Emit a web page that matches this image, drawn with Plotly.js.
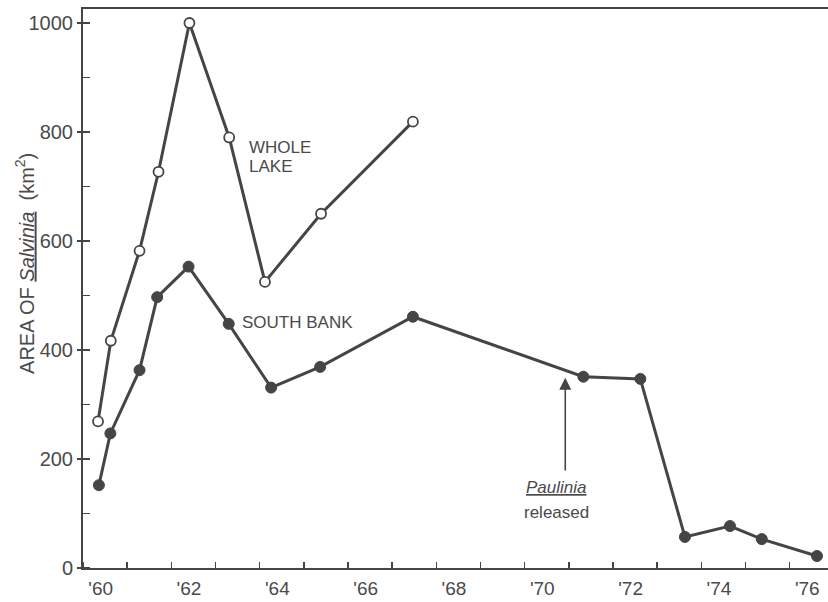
<!DOCTYPE html>
<html>
<head>
<meta charset="utf-8">
<script src="https://cdn.plot.ly/plotly-3.0.1.min.js"></script>
<style>
  html, body { margin: 0; padding: 0; background: #fff; overflow: hidden; }
  #chart { width: 836px; height: 602px; }
</style>
</head>
<body>
<div id="chart"></div>
<script>
// Area of Salvinia on the lake, by survey date (year, km²)
const wholeLakeYears = [1960.34, 1960.63, 1961.28, 1961.71, 1962.41, 1963.31, 1964.12, 1965.39, 1967.47];
const wholeLakeArea  = [269, 417, 582, 727, 1000, 790, 525, 650, 819];

const southBankYears = [1960.36, 1960.62, 1961.28, 1961.68, 1962.39, 1963.30, 1964.26, 1965.37, 1967.47,
                        1971.33, 1972.62, 1973.63, 1974.65, 1975.37, 1976.62];
const southBankArea  = [152, 247, 363, 497, 553, 448, 331, 369, 461,
                        351, 347, 57, 77, 53, 22];

// Year labels sit between the yearly tick marks
const tickYears  = [1960, 1962, 1964, 1966, 1968, 1970, 1972, 1974, 1976];
const tickLabels = ["'60", "'62", "'64", "'66", "'68", "'70", "'72", "'74", "'76"];

// Paulinia release: arrow from this level up to the South Bank line
const releaseYear = 1970.92;
const releaseArrowFrom = 176;
const releaseArrowTo = 349;

const ink = '#454545';
const textInk = '#4a4a4a';
const fontFamily = 'Liberation Sans, Arial, sans-serif';

const traces = [
  {
    x: southBankYears, y: southBankArea, type: 'scatter', mode: 'lines+markers',
    name: 'South Bank',
    line: { color: ink, width: 3 },
    marker: { symbol: 'circle', size: 11, color: ink, line: { color: ink, width: 1 } },
    cliponaxis: false, hoverinfo: 'x+y'
  },
  {
    x: wholeLakeYears, y: wholeLakeArea, type: 'scatter', mode: 'lines+markers',
    name: 'Whole Lake',
    line: { color: ink, width: 3 },
    marker: { symbol: 'circle', size: 10, color: '#ffffff', line: { color: ink, width: 1.8 } },
    cliponaxis: false, hoverinfo: 'x+y'
  }
];

const labelFont = { family: fontFamily, size: 17, color: textInk };

const layout = {
  width: 836, height: 602,
  margin: { l: 83, r: 4, t: 9, b: 34 },
  paper_bgcolor: '#ffffff', plot_bgcolor: '#ffffff',
  showlegend: false,
  font: { family: fontFamily, color: textInk },
  xaxis: {
    range: [1960, 1976.96],
    showgrid: false, zeroline: false,
    showline: true, linecolor: ink, linewidth: 2, mirror: true,
    tickmode: 'array',
    tickvals: tickYears.map(v => v + 0.4),
    ticktext: tickLabels,
    ticks: '', ticklabelstandoff: 2,
    tickfont: { family: fontFamily, size: 19, color: textInk },
    minor: { tickmode: 'linear', tick0: 1960, dtick: 1, ticks: 'inside', ticklen: 6, tickwidth: 1.5, tickcolor: ink, showgrid: false }
  },
  yaxis: {
    range: [0, 1025.7],
    showgrid: false, zeroline: false,
    showline: true, linecolor: ink, linewidth: 2, mirror: false,
    tickmode: 'linear', tick0: 0, dtick: 200,
    ticks: 'outside', ticklen: 4, tickwidth: 1.5, tickcolor: ink,
    ticklabelstandoff: 0,
    tickfont: { family: fontFamily, size: 20, color: textInk },
    minor: { tickmode: 'linear', tick0: 0, dtick: 100, ticks: 'inside', ticklen: 7, tickwidth: 1.5, tickcolor: ink, showgrid: false }
  },
  annotations: [
    {
      text: 'AREA OF <i><span style="text-decoration:underline">Salvinia</span></i>  (km<sup>2</sup>)',
      xref: 'paper', yref: 'paper', x: -0.078, y: 0.545,
      xanchor: 'center', yanchor: 'middle', textangle: -90, showarrow: false,
      font: { family: fontFamily, size: 20, color: textInk }
    },
    { text: 'WHOLE', x: 1963.71, y: 771, xanchor: 'left', yanchor: 'middle', showarrow: false, font: labelFont },
    { text: 'LAKE',  x: 1963.71, y: 736, xanchor: 'left', yanchor: 'middle', showarrow: false, font: labelFont },
    { text: 'SOUTH BANK', x: 1963.56, y: 450, xanchor: 'left', yanchor: 'middle', showarrow: false, font: labelFont },
    {
      text: 'Paulinia', x: 1970.72, y: 147, xanchor: 'center', yanchor: 'middle', showarrow: false,
      font: { family: fontFamily, size: 17, color: textInk, style: 'italic', lineposition: 'under' }
    },
    { text: 'released', x: 1970.72, y: 101, xanchor: 'center', yanchor: 'middle', showarrow: false, font: labelFont },
    {
      text: '', x: releaseYear, y: releaseArrowTo, ax: releaseYear, ay: releaseArrowFrom,
      xref: 'x', yref: 'y', axref: 'x', ayref: 'y',
      showarrow: true, arrowhead: 2, arrowsize: 1.5, arrowwidth: 1.6, arrowcolor: ink, standoff: 0
    }
  ]
};

Plotly.newPlot('chart', traces, layout, { displayModeBar: false, staticPlot: true });
</script>
</body>
</html>
